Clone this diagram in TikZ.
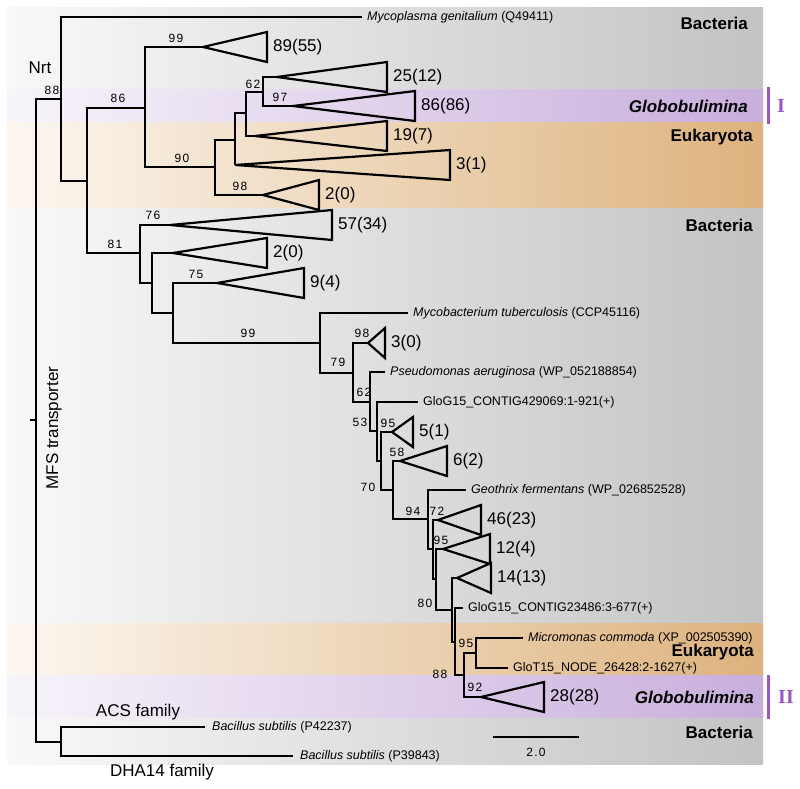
\documentclass[tikz,border=0pt]{standalone}
\usepackage{fontspec}
\setmainfont{Liberation Sans}
\newfontfamily\bootfont[LetterSpace=10]{Liberation Sans}
\newfontfamily\numeralfont{Liberation Serif}
\usetikzlibrary{positioning}
\definecolor{bgleft}{HTML}{F9F9F9}
\definecolor{bgright}{HTML}{C3C3C3}
\definecolor{globleft}{HTML}{F7F4FA}
\definecolor{globright}{HTML}{C8AEDC}
\definecolor{eukleft}{HTML}{FCF7F0}
\definecolor{eukright}{HTML}{DDB27D}
\definecolor{marker}{HTML}{9B55C4}

\begin{document}
\begin{tikzpicture}[x=1pt,y=-1pt,
  branch/.style={line width=2.4pt},
  clade/.style={line width=2.2pt,line join=miter},
  boot/.style={font=\bootfont\fontsize{12}{14}\selectfont,inner sep=0pt},
  leaf/.style={font=\fontsize{12.5}{15}\selectfont,inner sep=0pt},
  count/.style={font=\fontsize{17}{20}\selectfont,inner sep=0pt,anchor=west},
  taxon/.style={font=\bfseries\fontsize{17}{20}\selectfont,inner sep=0pt,anchor=east},
  family/.style={font=\fontsize{17}{20}\selectfont,inner sep=0pt},
  roman/.style={font=\numeralfont\bfseries\fontsize{20}{24}\selectfont,text=marker,inner sep=0pt}]
\useasboundingbox (0,0) rectangle (800,788);
\shade[left color=bgleft,right color=bgright] (7,7) rectangle (763,764);
\shade[left color=globleft,right color=globright] (7,89) rectangle (763,122);
\shade[left color=eukleft,right color=eukright] (7,122) rectangle (763,207);
\shade[left color=eukleft,right color=eukright] (7,623) rectangle (763,675);
\shade[left color=globleft,right color=globright] (7,675) rectangle (763,717);

\foreach \n/\x/\y in {nS/30/420,nR/36/420,nA/61/99,nZ/61/742,nB/87/181,nC/145/108,
  nD/215/167,nE/235/140,nF/246/113,nG/263/92,nH/140/253,nI/152/283,nJ/173/313,
  nK/320/343,nL/353/373,nM/370/402,nN/377/431,nO/381/461,nP/393/490,nQ/428/519,
  nT/433/549,nU/436/579,nV/452/610,nW/455/642,nX/464/675,nY/476/653}
  \coordinate (\n) at (\x,\y);
\foreach \n/\x/\y in {t89/203/47,t25/277/77,t86/293/106,t19/255/136,t3a/235/165,
  t2a/263/195,t57/170/225,t2b/173/253,t9/217/283,t3b/368/343,t5/392/432,t6/400/461,
  t46/438/520,t12/443/549,t14/457/578,t28/481/697}
  \coordinate (\n) at (\x,\y);
\foreach \n/\x/\y in {lMyco/362/17,lMycob/408/313,lPseu/385/372,lGa/418/402,
  lGeo/466/490,lGb/463/608,lMicro/523/638,lGloT/508/668,lBacA/205/727,lBacB/293/756}
  \coordinate (\n) at (\x,\y);

\draw[branch] (nS) -- (nR);
\foreach \p/\c in {nR/nA,nR/nZ,nA/lMyco,nA/nB,nB/nC,nB/nH,nC/t89,nC/nD,nD/nE,nD/t2a,
  nE/nF,nE/t3a,nF/nG,nF/t19,nG/t25,nG/t86,nH/t57,nH/nI,nI/t2b,nI/nJ,nJ/t9,nJ/nK,
  nK/lMycob,nK/nL,nL/t3b,nL/nM,nM/lPseu,nM/nN,nN/lGa,nN/nO,nO/t5,nO/nP,nP/t6,nP/nQ,
  nQ/lGeo,nQ/nT,nT/t46,nT/nU,nU/t12,nU/nV,nV/t14,nV/nW,nW/lGb,nW/nX,nX/nY,nX/t28,
  nY/lMicro,nY/lGloT,nZ/lBacA,nZ/lBacB}
  \draw[branch] (\p) |- (\c);

\foreach \c/\w/\t in {t89/64/89(55),t25/110/25(12),t86/122/86(86),t19/132/19(7),
  t3a/215/3(1),t2a/56/2(0),t57/162/57(34),t2b/94/2(0),t9/87/9(4),t3b/17/3(0),
  t5/21/5(1),t6/47/6(2),t46/43/46(23),t12/47/12(4),t14/34/14(13),t28/63/28(28)}
{
  \draw[clade] (\c) -- ++(\w,15) -- ++(0,-30) -- cycle;
  \node[count] (k\c) at ([xshift=\w+6]\c) {\t};
}

\node[leaf,right=5pt of lMyco] (myco) {\textit{Mycoplasma genitalium} (Q49411)};
\node[leaf,right=5pt of lMycob] (mycob) {\textit{Mycobacterium tuberculosis} (CCP45116)};
\node[leaf,right=5pt of lPseu] (pseu) {\textit{Pseudomonas aeruginosa} (WP\_052188854)};
\node[leaf,right=5pt of lGa] (gloga) {GloG15\_CONTIG429069:1-921(+)};
\node[leaf,right=5pt of lGeo] (geo) {\textit{Geothrix fermentans} (WP\_026852528)};
\node[leaf,right=5pt of lGb] (glogb) {GloG15\_CONTIG23486:3-677(+)};
\node[leaf,right=5pt of lMicro] (micro) {\textit{Micromonas commoda} (XP\_002505390)};
\node[leaf,right=5pt of lGloT] (glot) {GloT15\_NODE\_26428:2-1627(+)};
\node[leaf,right=7pt of lBacA] (baca) {\textit{Bacillus subtilis} (P42237)};
\node[leaf,right=7pt of lBacB] (bacb) {\textit{Bacillus subtilis} (P39843)};

\foreach \x/\y/\v [count=\i] in {52/90/88,118/98/86,176/38/99,182/158/90,240/186/98,
  253/84/62,280/97/97,153/215/76,115/244/81,196/274/75,248/333/99,362/333/98,
  338/362/79,364/392/62,360/422/53,388/423/95,397/452/58,368/487/70,413/511/94,
  437/511/72,441/540/95,425/603/80,466/643/95,440/674/88,475/687/92}
  \node[boot] (bs\i) at (\x,\y) {\v};

\node[taxon] (bacta) at (748,23) {Bacteria};
\node[taxon] (globa) at (748,106) {\itshape Globobulimina};
\node[taxon] (euka) at (753,137) {Eukaryota};
\node[taxon] (bactb) at (753,225) {Bacteria};
\node[taxon] (eukb) at (754,652) {Eukaryota};
\node[taxon] (globb) at (754,697) {\itshape Globobulimina};
\node[taxon] (bactc) at (753,732) {Bacteria};

\node[family] (nrt) at (40,68) {Nrt};
\node[family] (acs) at (138,712) {ACS family};
\node[family] (dha) at (162,772) {DHA14 family};
\node[family,rotate=90] (mfs) at (54,428) {MFS transporter};

\draw[marker,line width=3pt] (768,87) -- (768,124);
\node[roman] (cla) at (781,106) {I};
\draw[marker,line width=3pt] (768,675) -- (768,719);
\node[roman] (clb) at (786,697) {II};

\coordinate (sbL) at (493,737);
\coordinate (sbR) at (579,737);
\draw[branch] (sbL) -- (sbR);
\node[boot] (sbt) at (536,752) {2.0};
\end{tikzpicture}
\end{document}
